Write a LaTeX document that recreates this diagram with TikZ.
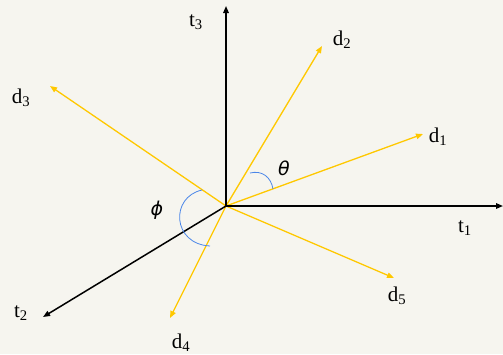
\documentclass[tikz,border=0pt]{standalone}
\usepackage{fontspec}
\setmainfont{Liberation Serif}
\newfontfamily\greekfont{DejaVu Sans}
\usetikzlibrary{arrows.meta}
\definecolor{bgc}{HTML}{F6F5EF}
\definecolor{gold}{HTML}{FFC800}
\definecolor{arcblue}{HTML}{4A86E8}
\tikzset{
  axis/.style={line width=1.5pt, draw=black, -{Triangle[length=7pt,width=5.5pt]}},
  doc/.style={line width=1.3pt, draw=gold, -{Triangle[length=7pt,width=5.5pt]}},
  lbl/.style={font=\fontsize{21}{23}\selectfont, inner sep=0pt},
  glbl/.style={font=\greekfont\itshape\fontsize{19}{21}\selectfont, inner sep=0pt},
  anglearc/.style={draw=arcblue, line width=0.8pt}
}
\begin{document}
\begin{tikzpicture}[x=1pt,y=-1pt]
\fill[bgc] (0,0) rectangle (503,354);
\useasboundingbox (0,0) rectangle (503,354);
\coordinate (o) at (226,206);
\coordinate (t1e) at (503,206);
\coordinate (t2e) at (43,317);
\coordinate (t3e) at (226,6);
\coordinate (d1e) at (423,134);
\coordinate (d2e) at (322,46);
\coordinate (d3e) at (50,86);
\coordinate (d4e) at (170,318);
\coordinate (d5e) at (394,278);
\draw[doc] (o) -- (d3e);
\draw[doc] (o) -- (d4e);
\draw[doc] (o) -- (d2e);
\draw[doc] (o) -- (d1e);
\draw[doc] (o) -- (d5e);
\draw[axis] (o) -- (t1e);
\draw[axis] (o) -- (t2e);
\draw[axis] (o) -- (t3e);
\coordinate (a1) at (250,173);
\coordinate (a2) at (273,189);
\coordinate (b1) at (202,190);
\coordinate (b2) at (210,246);
\draw[anglearc] (a1) .. controls (262,170) and (271,177) .. (a2);
\draw[anglearc] (b1) .. controls (170,197) and (172,244) .. (b2);
\node[lbl] (lt3) at (196,22) {t\textsubscript{3}};
\node[lbl] (lt1) at (465,228) {t\textsubscript{1}};
\node[lbl] (lt2) at (21,313) {t\textsubscript{2}};
\node[lbl] (ld1) at (438,137) {d\textsubscript{1}};
\node[lbl] (ld2) at (342,40) {d\textsubscript{2}};
\node[lbl] (ld3) at (21,98) {d\textsubscript{3}};
\node[lbl] (ld4) at (181,343) {d\textsubscript{4}};
\node[lbl] (ld5) at (397,296) {d\textsubscript{5}};
\node[glbl] (th) at (284,168) {θ};
\node[glbl] (ph) at (157,210) {ϕ};
\end{tikzpicture}
\end{document}
